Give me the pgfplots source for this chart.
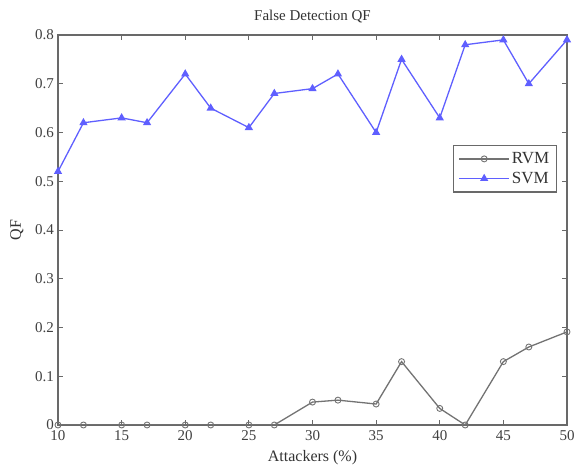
\documentclass[border=0pt]{standalone}
\usepackage{fontspec}
\setmainfont{Liberation Serif}
\usepackage{pgfplots}
\pgfplotsset{compat=1.18}
\definecolor{rvm}{RGB}{115,115,115}
\definecolor{svm}{RGB}{95,95,255}
\definecolor{axc}{RGB}{105,105,105}
\begin{document}
\begin{tikzpicture}
\useasboundingbox (-58pt,-45pt) rectangle (518pt,425pt);
\begin{axis}[
  scale only axis,
  width=509pt, height=390pt,
  xmin=10, xmax=50, ymin=0, ymax=0.8,
  xtick={10,15,...,50},
  ytick={0,0.1,...,0.8},
  yticklabels={0,0.1,0.2,0.3,0.4,0.5,0.6,0.7,0.8},
  tick align=inside,
  tick pos=both,
  major tick length=5pt,
  every tick/.style={axc, line width=0.8pt},
  axis line style={axc, line width=1.2pt},
  /pgf/number format/assume math mode=true,
  tick label style={font=\fontsize{15}{17}\selectfont, text=black!75},
  xticklabel style={inner sep=2pt, yshift=-3pt},
  yticklabel style={inner sep=2pt, xshift=-2pt},
  title={False Detection QF},
  title style={font=\fontsize{15}{17}\selectfont, text=black!80, at={(axis description cs:0.5,1)}, anchor=center, yshift=12pt},
  xlabel={Attackers (\%)},
  ylabel={QF},
  label style={font=\fontsize{16}{18}\selectfont, text=black!80},
  xlabel style={at={(axis description cs:0.5,0)}, anchor=center, yshift=-33pt},
  ylabel style={at={(axis description cs:0,0.5)}, anchor=center, yshift=41pt},
  legend style={at={(0.980,0.718)}, anchor=north east, draw=axc, line width=1.2pt,
     font=\fontsize{17}{19}\selectfont, text=black!80, inner xsep=5pt, inner ysep=5pt, row sep=3pt, cells={anchor=west}},
  legend cell align=left,
  legend image code/.code={\draw[mark repeat=2,mark phase=2,#1] plot coordinates {(0pt,0pt) (25pt,0pt) (50pt,0pt)};},
]
\addplot[rvm, line width=1.3pt, mark=o, mark size=3pt, mark options={line width=0.9pt}] coordinates {
(10,0) (12,0) (15,0) (17,0) (20,0) (22,0) (25,0) (27,0)
(30,0.047) (32,0.051) (35,0.043) (37,0.13) (40,0.034) (42,0)
(45,0.13) (47,0.16) (50,0.191)
};
\addlegendentry{RVM}
\addplot[svm, line width=1.3pt, mark=triangle*, mark size=3.5pt] coordinates {
(10,0.52) (12,0.62) (15,0.63) (17,0.62) (20,0.72) (22,0.65) (25,0.61) (27,0.68)
(30,0.69) (32,0.72) (35,0.60) (37,0.75) (40,0.63) (42,0.78)
(45,0.79) (47,0.70) (50,0.79)
};
\addlegendentry{SVM}
\end{axis}
\end{tikzpicture}
\end{document}
